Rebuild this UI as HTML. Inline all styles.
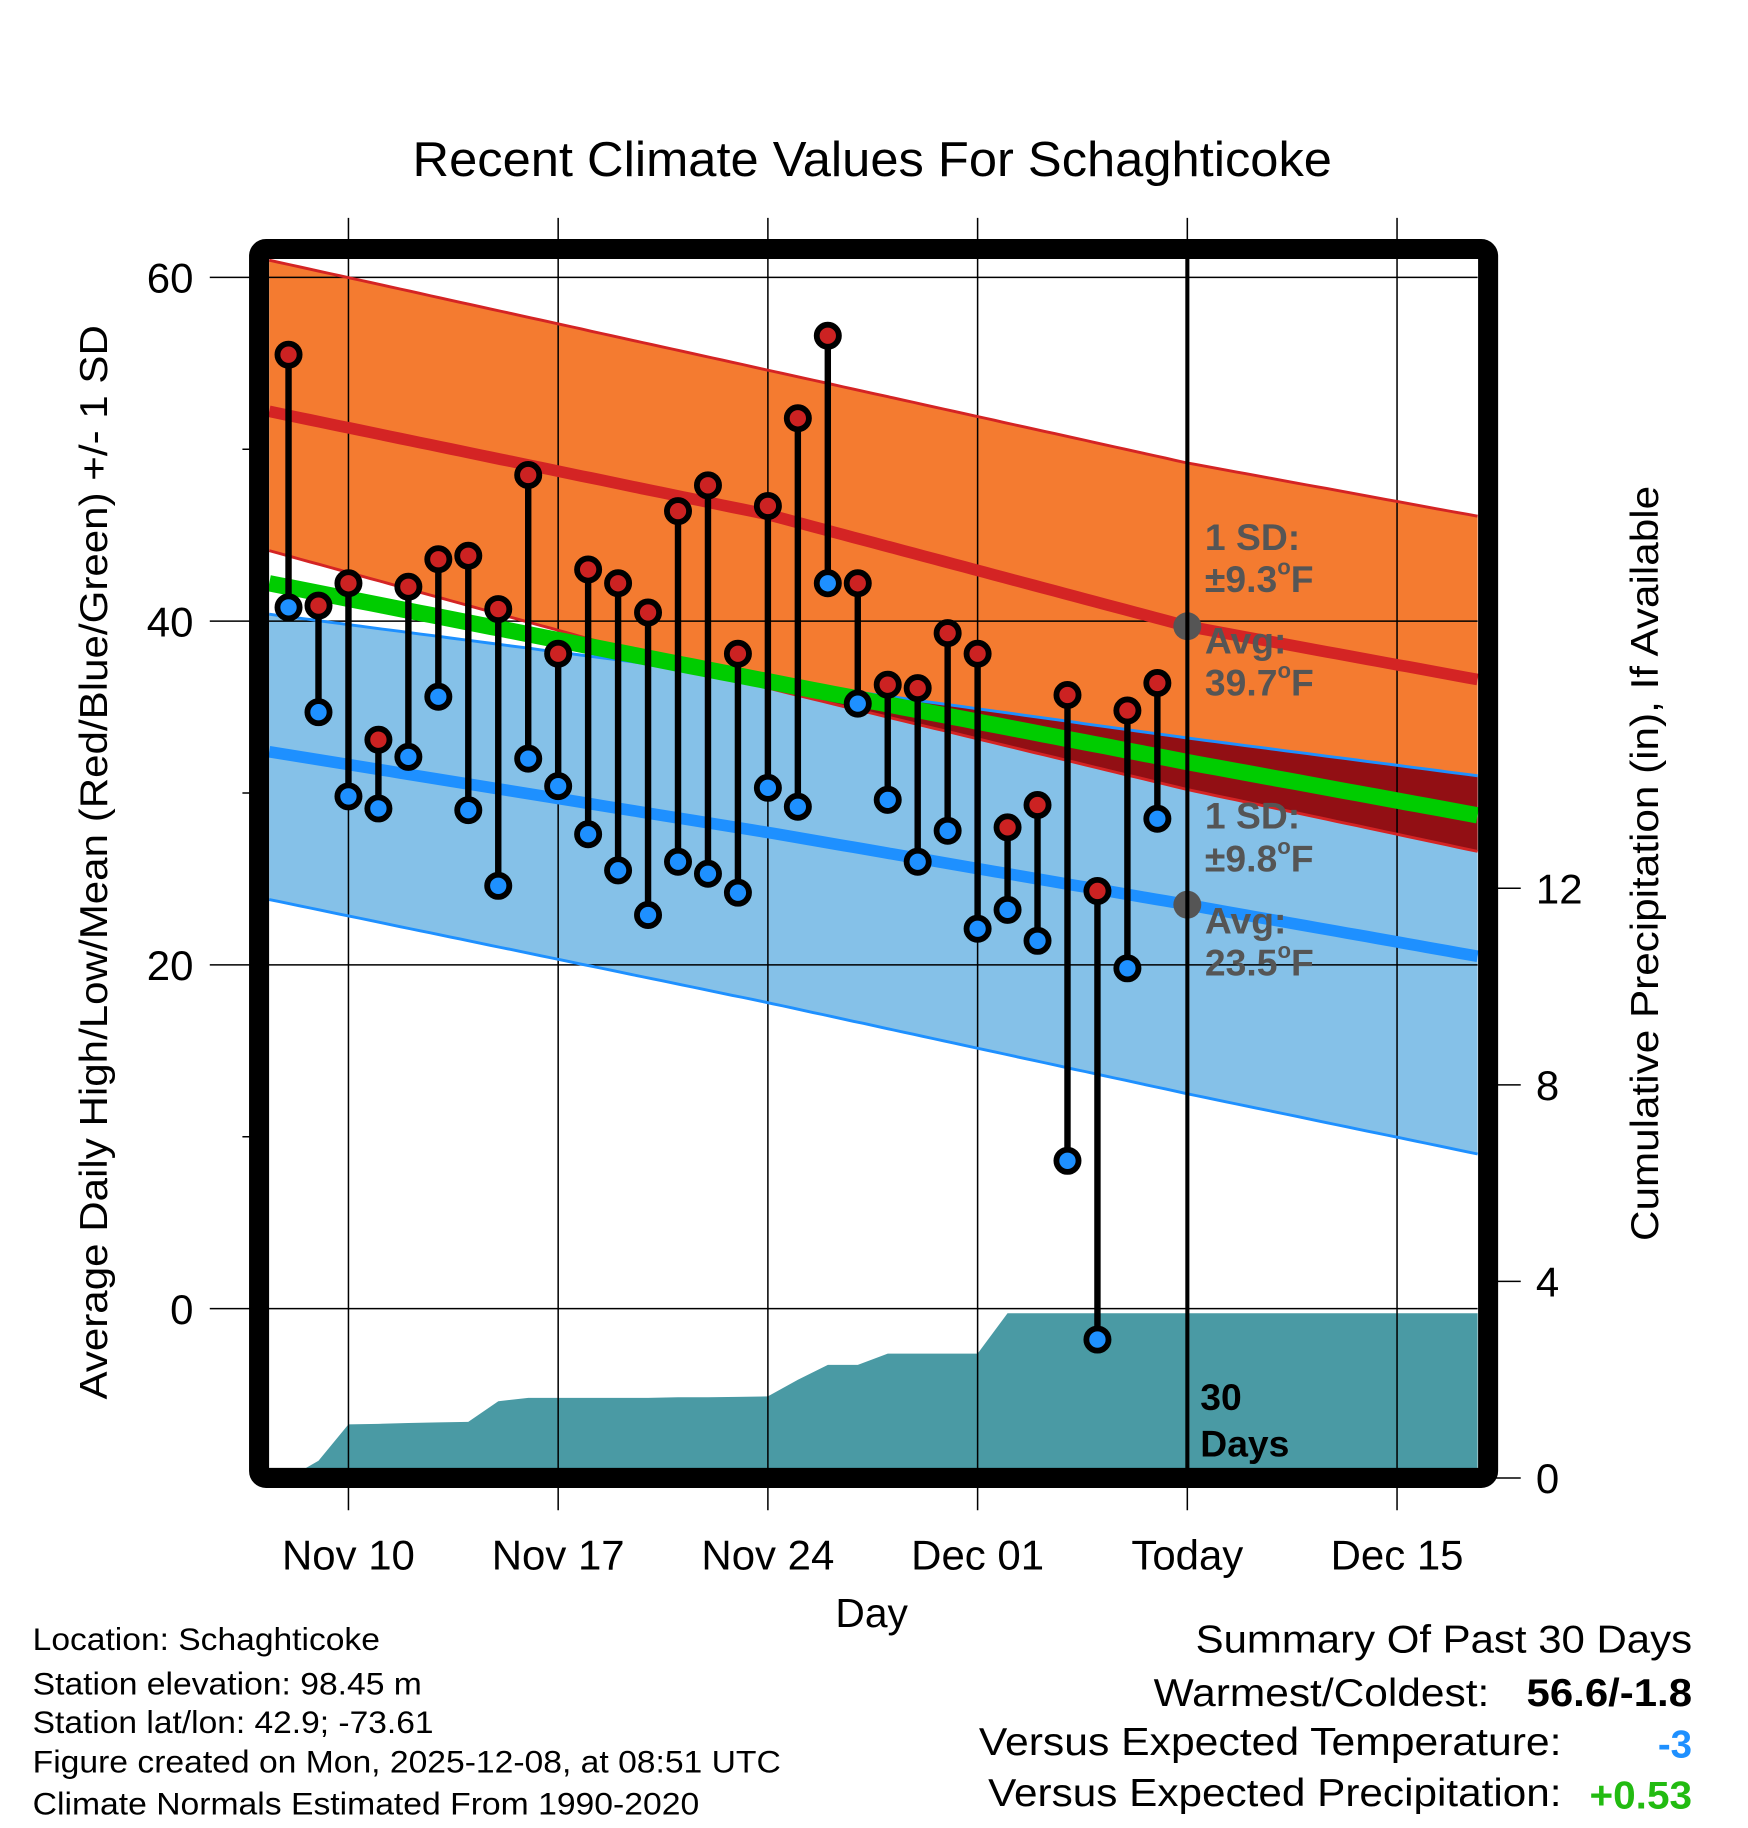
<!DOCTYPE html>
<html><head><meta charset="utf-8"><style>
html,body{margin:0;padding:0;background:#fff}
svg{display:block}
text{font-family:"Liberation Sans",sans-serif}
</style></head><body>
<svg id="chart" width="1748" height="1828" viewBox="0 0 1500 1568.7" xmlns="http://www.w3.org/2000/svg">
<g id="bands"></g>
<g id="precip"></g>
<g id="grid"></g>
<g id="lines"></g>
<line x1="1018.9" y1="222" x2="1018.9" y2="1262" stroke="#000" stroke-width="3.5"/>
<g id="marks"></g>
<rect x="222.3" y="213.7" width="1054.7" height="1054.6" rx="6" fill="none" stroke="#000" stroke-width="17.2"/>
<g id="axes"></g>
<text x="354" y="151" font-size="42" textLength="789" lengthAdjust="spacingAndGlyphs">Recent Climate Values For Schaghticoke</text>
<text transform="translate(92,740) rotate(-90)" text-anchor="middle" font-size="33" textLength="922" lengthAdjust="spacingAndGlyphs">Average Daily High/Low/Mean (Red/Blue/Green) +/- 1 SD</text>
<text transform="translate(1423,741) rotate(-90)" text-anchor="middle" font-size="33" textLength="648" lengthAdjust="spacingAndGlyphs">Cumulative Precipitation (in), If Available</text>
<text x="748" y="1396" text-anchor="middle" font-size="35">Day</text>
<g font-size="32" font-weight="bold" fill="#555">
<text x="1034" y="472">1 SD:</text>
<text x="1034" y="508">±9.3<tspan font-size="19" dy="-15">o</tspan><tspan dy="15">F</tspan></text>
<text x="1034" y="561">Avg:</text>
<text x="1034" y="597">39.7<tspan font-size="19" dy="-15">o</tspan><tspan dy="15">F</tspan></text>
</g>
<g font-size="32" font-weight="bold" fill="#555">
<text x="1034" y="711">1 SD:</text>
<text x="1034" y="748">±9.8<tspan font-size="19" dy="-15">o</tspan><tspan dy="15">F</tspan></text>
<text x="1034" y="801">Avg:</text>
<text x="1034" y="837">23.5<tspan font-size="19" dy="-15">o</tspan><tspan dy="15">F</tspan></text>
</g>
<g font-size="32" font-weight="bold" fill="#000">
<text x="1030" y="1210">30</text>
<text x="1030" y="1250">Days</text>
</g>
<g font-size="27">
<text x="28" y="1416" textLength="298" lengthAdjust="spacingAndGlyphs">Location: Schaghticoke</text>
<text x="28" y="1454" textLength="334" lengthAdjust="spacingAndGlyphs">Station elevation: 98.45 m</text>
<text x="28" y="1487" textLength="344" lengthAdjust="spacingAndGlyphs">Station lat/lon: 42.9; -73.61</text>
<text x="28" y="1521" textLength="642" lengthAdjust="spacingAndGlyphs">Figure created on Mon, 2025-12-08, at 08:51 UTC</text>
<text x="28" y="1557" textLength="572" lengthAdjust="spacingAndGlyphs">Climate Normals Estimated From 1990-2020</text>
</g>
<g font-size="33">
<text x="1026" y="1418" textLength="426" lengthAdjust="spacingAndGlyphs">Summary Of Past 30 Days</text>
<text x="990" y="1464" textLength="288" lengthAdjust="spacingAndGlyphs">Warmest/Coldest:</text>
<text x="1310" y="1464" font-weight="bold" textLength="142" lengthAdjust="spacingAndGlyphs">56.6/-1.8</text>
<text x="840" y="1506" textLength="500" lengthAdjust="spacingAndGlyphs">Versus Expected Temperature:</text>
<text x="1452" y="1508" font-weight="bold" fill="#1e90ff" text-anchor="end">-3</text>
<text x="848" y="1550" textLength="492" lengthAdjust="spacingAndGlyphs">Versus Expected Precipitation:</text>
<text x="1364" y="1552" font-weight="bold" fill="#22bb11" textLength="88" lengthAdjust="spacingAndGlyphs">+0.53</text>
</g>
</svg>
<script>
// ---- data ----
const dayLabels = ["Nov 8","Nov 9","Nov 10","Nov 11","Nov 12","Nov 13","Nov 14","Nov 15","Nov 16","Nov 17","Nov 18","Nov 19","Nov 20","Nov 21","Nov 22","Nov 23","Nov 24","Nov 25","Nov 26","Nov 27","Nov 28","Nov 29","Nov 30","Dec 1","Dec 2","Dec 3","Dec 4","Dec 5","Dec 6","Dec 7"];
const dayIndex = [-2,-1,0,1,2,3,4,5,6,7,8,9,10,11,12,13,14,15,16,17,18,19,20,21,22,23,24,25,26,27];
const highs = [55.5,40.9,42.2,33.1,42.0,43.6,43.8,40.7,48.5,38.1,43.0,42.2,40.5,46.4,47.9,38.1,46.7,51.8,56.6,42.2,36.3,36.1,39.3,38.1,28.0,29.3,35.7,24.3,34.8,36.4];
const lows = [40.8,34.7,29.8,29.1,32.1,35.6,29.0,24.6,32.0,30.4,27.6,25.5,22.9,26.0,25.3,24.2,30.3,29.2,42.2,35.2,29.6,26.0,27.8,22.1,23.2,21.4,8.6,-1.8,19.8,28.5];
const precip = [0,0.35,1.09,1.10,1.12,1.13,1.14,1.56,1.63,1.63,1.63,1.63,1.63,1.64,1.64,1.65,1.66,2.0,2.3,2.3,2.53,2.53,2.53,2.53,3.35,3.35,3.35,3.35,3.35,3.35];
const normDays = [-2.645,14,28,37.69];
const highUpper = [61.0,54.6,49.2,46.1];
const highAvg = [52.2,46.2,39.7,36.6];
const highLower = [44.1,36.1,30.2,26.6];
const lowUpper = [40.4,36.6,33.2,31.0];
const lowAvg = [32.4,27.7,23.5,20.5];
const lowLower = [23.8,17.8,12.5,9.0];
const meanAvg = [42.2,36.5,31.8,28.7];
const xTickDays = [0,7,14,21,28,35];
const xTickLabels = ["Nov 10","Nov 17","Nov 24","Dec 01","Today","Dec 15"];
const yTicks = [0,20,40,60];
const yMinor = [10,30,50];
const pTicks = [0,4,8,12];
const todayDay = 28;

// ---- axes functions ----
const X0=299, DX=25.71, LEFT=231, RIGHT=1268;
const x = d => X0 + DX*d;
const y = t => 1123 - 14.75*t;
const yp = p => 1268.3 - 42.17*p;
const NS="http://www.w3.org/2000/svg";
function mk(tag, attrs, parent){const e=document.createElementNS(NS,tag);for(const k in attrs)e.setAttribute(k,attrs[k]);parent.appendChild(e);return e;}
function interp(arr, d){for(let i=0;i<normDays.length-1;i++){if(d<=normDays[i+1]||i===normDays.length-2){const t=(d-normDays[i])/(normDays[i+1]-normDays[i]);return arr[i]+t*(arr[i+1]-arr[i]);}}}
const samples=[];for(let i=0;i<=120;i++)samples.push(normDays[0]+(normDays[3]-normDays[0])*i/120);
function band(up, lo){const top=samples.map(d=>x(d).toFixed(1)+","+y(up(d)).toFixed(1));const bot=samples.slice().reverse().map(d=>x(d).toFixed(1)+","+y(lo(d)).toFixed(1));return top.concat(bot).join(" ");}
function linePts(arr){return samples.map(d=>x(d).toFixed(1)+","+y(interp(arr,d)).toFixed(1)).join(" ");}

const bands=document.getElementById('bands');
let e;
e=mk('polygon',{points:band(d=>interp(highUpper,d),d=>interp(highLower,d)),fill:'#f47b30'},bands);


e=mk('polygon',{points:band(d=>interp(lowUpper,d),d=>interp(lowLower,d)),fill:'#85c1e8'},bands);


const ovTop=[],ovBot=[];
samples.forEach(d=>{const t=Math.min(interp(lowUpper,d),interp(highUpper,d));const b=Math.max(interp(highLower,d),interp(lowLower,d));if(t>b){ovTop.push(x(d).toFixed(1)+","+y(t).toFixed(1));ovBot.unshift(x(d).toFixed(1)+","+y(b).toFixed(1));}});
if(ovTop.length){e=mk('polygon',{points:ovTop.concat(ovBot).join(" "),fill:'#920f14'},bands);

}

const pg=document.getElementById('precip');
let pp=[x(normDays[0]).toFixed(1)+","+yp(0)];
dayIndex.forEach((d,i)=>pp.push(x(d).toFixed(1)+","+yp(precip[i]).toFixed(1)));
pp.push(RIGHT+","+yp(precip[precip.length-1]).toFixed(1));pp.push(RIGHT+","+yp(0));
e=mk('polygon',{points:pp.join(" "),fill:'#4a9aa4'},pg);



const grid=document.getElementById('grid');
xTickDays.forEach(d=>{e=mk('line',{x1:x(d),x2:x(d),y1:187,y2:1296,stroke:'#000','stroke-width':1.3},grid);

});
yTicks.forEach(t=>{e=mk('line',{x1:180,x2:RIGHT,y1:y(t),y2:y(t),stroke:'#000','stroke-width':1.3},grid);

});
yMinor.forEach(t=>{e=mk('line',{x1:208,x2:222,y1:y(t),y2:y(t),stroke:'#000','stroke-width':1.3},grid);

});

const lg=document.getElementById('lines');
const lineDefs=[[highUpper,'#d42424',2.5,'high-upper-sd-line'],[highLower,'#d42424',2.5,'high-lower-sd-line'],[lowUpper,'#1e90ff',2.5,'low-upper-sd-line'],[lowLower,'#1e90ff',2.5,'low-lower-sd-line'],[highAvg,'#d42424',10,'high-average-line'],[lowAvg,'#1e90ff',10,'low-average-line'],[meanAvg,'#00cc00',14,'mean-average-line']];
lineDefs.forEach(ld=>{e=mk('polyline',{points:linePts(ld[0]),fill:'none',stroke:ld[1],'stroke-width':ld[2]},lg);

});
[[highAvg,'today-high-avg-dot'],[lowAvg,'today-low-avg-dot']].forEach(a=>{e=mk('circle',{cx:x(todayDay),cy:y(interp(a[0],todayDay)),r:12,fill:'#555'},lg);

});

const mg=document.getElementById('marks');
dayIndex.forEach((d,i)=>{
 e=mk('line',{x1:x(d),x2:x(d),y1:y(highs[i]),y2:y(lows[i]),stroke:'#000','stroke-width':5.5},mg);
 
 
});
dayIndex.forEach((d,i)=>{
 e=mk('circle',{cx:x(d),cy:y(highs[i]),r:9.5,fill:'#cc2222',stroke:'#000','stroke-width':5},mg);
 
 
 e=mk('circle',{cx:x(d),cy:y(lows[i]),r:9.5,fill:'#1e90ff',stroke:'#000','stroke-width':5},mg);
 
 
});

const ax=document.getElementById('axes');
xTickDays.forEach((d,i)=>{e=mk('text',{x:x(d),y:1347,'text-anchor':'middle','font-size':36},ax);e.textContent=xTickLabels[i];

});
yTicks.forEach(t=>{e=mk('text',{x:166,y:y(t)+13,'text-anchor':'end','font-size':36},ax);e.textContent=t;

});
pTicks.forEach(p=>{e=mk('line',{x1:1277,x2:1305,y1:yp(p),y2:yp(p),stroke:'#000','stroke-width':1.3},ax);


e=mk('text',{x:1318,y:yp(p)+13,'font-size':36},ax);e.textContent=p;

});
</script>
</body></html>
